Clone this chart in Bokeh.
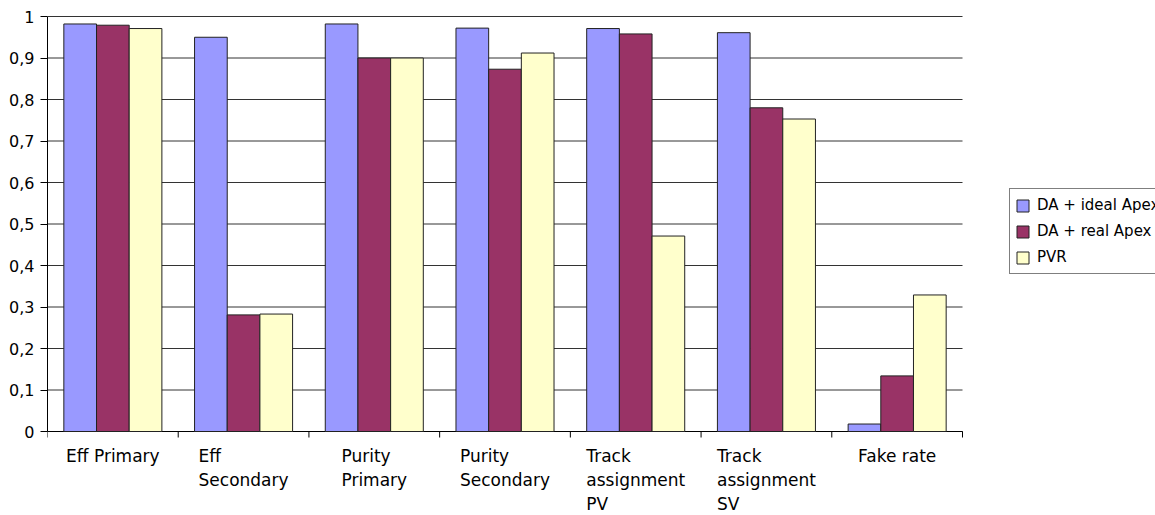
from bokeh.plotting import figure
from bokeh.models import (ColumnDataSource, FixedTicker, CustomJSTickFormatter, Range1d,
                          Legend, LegendItem)
from bokeh.core.properties import value
from bokeh.embed import file_html
from bokeh.resources import INLINE

categories = ["Eff Primary", "Eff\nSecondary", "Purity\nPrimary", "Purity\nSecondary",
              "Track\nassignment\nPV", "Track\nassignment\nSV", "Fake rate"]
series_names = ["DA + ideal Apex", "DA + real Apex", "PVR"]
ideal_apex = [0.982, 0.950, 0.982, 0.972, 0.971, 0.961, 0.018]
real_apex = [0.979, 0.281, 0.900, 0.873, 0.958, 0.780, 0.134]
pvr = [0.971, 0.283, 0.900, 0.912, 0.471, 0.753, 0.329]
colors = ["#9999FF", "#993366", "#FFFFCC"]
y_ticks = [0, 0.1, 0.2, 0.3, 0.4, 0.5, 0.6, 0.7, 0.8, 0.9, 1.0]

FONT = "DejaVu Sans"
n = len(categories)

W, H = 1155, 515
LEFT, TOP = 47, 6
PX_PER_UNIT_Y = 415.0        # pixels for value 1.0
PX_PER_CAT = 915.0 / n       # pixels per category
frame_w = W - LEFT
frame_h = H - TOP
y_top = 1 + 10 / PX_PER_UNIT_Y
y_bottom = y_top - frame_h / PX_PER_UNIT_Y
x_end = frame_w / PX_PER_CAT

p = figure(width=W, height=H, output_backend="svg", toolbar_location=None,
           x_range=Range1d(0, x_end), y_range=Range1d(y_bottom, y_top),
           x_axis_type=None,
           min_border_left=LEFT, min_border_right=0, min_border_top=TOP, min_border_bottom=0)
p.outline_line_color = None
p.background_fill_color = "white"
p.border_fill_color = "white"
p.xgrid.grid_line_color = None
p.ygrid.grid_line_color = None

# y axis
p.yaxis.ticker = FixedTicker(ticks=y_ticks)
p.yaxis.bounds = (0, 1)
p.yaxis.formatter = CustomJSTickFormatter(
    code="var s = tick.toFixed(1).replace('.', ','); return s.replace(/,0$/, '');")
p.yaxis.axis_line_color = "black"
p.yaxis.major_tick_line_color = "black"
p.yaxis.major_tick_out = 7
p.yaxis.major_tick_in = 0
p.yaxis.minor_tick_line_color = None
p.yaxis.major_label_standoff = 6
p.yaxis.major_label_text_font = FONT
p.yaxis.major_label_text_font_size = "16px"
p.yaxis.major_label_text_color = "black"

# horizontal grid lines across the category area
p.segment(x0=[0] * len(y_ticks), x1=[n] * len(y_ticks), y0=y_ticks, y1=y_ticks,
          line_color="#333333", line_width=1)

# x axis line and boundary ticks
bounds = list(range(n + 1))
p.segment(x0=[0], x1=[n], y0=[0], y1=[0], line_color="black", line_width=1)
p.segment(x0=bounds, x1=bounds, y0=[0] * len(bounds), y1=[-6 / PX_PER_UNIT_Y] * len(bounds),
          line_color="black", line_width=1)

offsets = [0.25, 0.5, 0.75]
all_values = [ideal_apex, real_apex, pvr]
renderers = []
for k, (vals, col) in enumerate(zip(all_values, colors)):
    src = ColumnDataSource(dict(x=[i + offsets[k] for i in range(n)], top=vals))
    r = p.vbar(x="x", top="top", width=0.25, bottom=0, source=src,
               fill_color=col, line_color="#222222", line_width=1)
    renderers.append(r)

# category labels
lab_src = ColumnDataSource(dict(x=[i + 0.5 for i in range(n)],
                                y=[-14 / PX_PER_UNIT_Y] * n, text=categories))
p.text(x="x", y="y", text="text", source=lab_src, anchor="top_center",
       text_align="left", text_baseline="top",
       text_font=value(FONT), text_font_size="17px", text_color="black",
       text_line_height=1.2)

legend = Legend(items=[LegendItem(label=nm, renderers=[r]) for nm, r in zip(series_names, renderers)],
                location=(1009 - LEFT, H - 274), orientation="vertical",
                label_text_font=FONT, label_text_font_size="15px", label_text_color="black",
                glyph_width=15, glyph_height=15, label_height=22, spacing=4,
                padding=5, label_standoff=7, margin=0,
                border_line_color="black", border_line_width=1,
                background_fill_color="white", background_fill_alpha=1)
p.add_layout(legend, "center")

open("out.html", "w").write(file_html(p, INLINE))
